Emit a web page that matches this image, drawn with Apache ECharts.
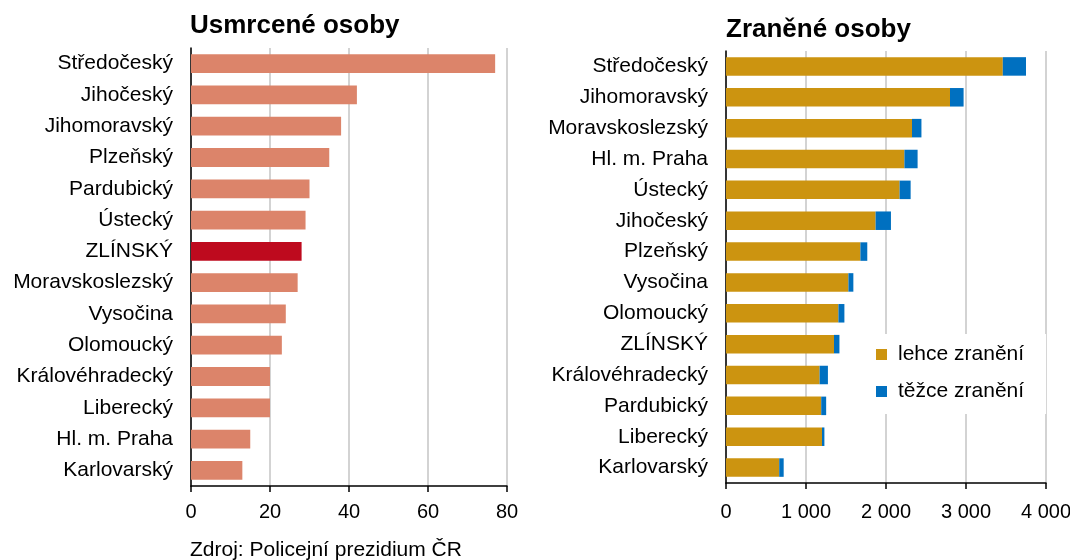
<!DOCTYPE html>
<html>
<head>
<meta charset="utf-8">
<script src="https://cdn.jsdelivr.net/npm/echarts@6/dist/echarts.min.js"></script>
<style>
  html, body { margin: 0; padding: 0; background: #fff; }
  #main { width: 1070px; height: 560px; }
</style>
</head>
<body>
<div id="main"></div>
<script>
// usmrcené osoby
var killedRegions = ["Středočeský", "Jihočeský", "Jihomoravský", "Plzeňský", "Pardubický", "Ústecký", "ZLÍNSKÝ",
  "Moravskoslezský", "Vysočina", "Olomoucký", "Královéhradecký", "Liberecký", "Hl. m. Praha", "Karlovarský"]
var killedValues = [77, 42, 38, 35, 30, 29, 28, 27, 24, 23, 20, 20, 15, 13]
var killedTicks = [0, 20, 40, 60, 80]

// zraněné osoby
var injuredRegions = ["Středočeský", "Jihomoravský", "Moravskoslezský", "Hl. m. Praha", "Ústecký", "Jihočeský", "Plzeňský",
  "Vysočina", "Olomoucký", "ZLÍNSKÝ", "Královéhradecký", "Pardubický", "Liberecký", "Karlovarský"]
var lightlyInjured = [3460, 2800, 2325, 2230, 2170, 1870, 1680, 1530, 1405, 1350, 1170, 1190, 1200, 665]
var seriouslyInjured = [290, 170, 118, 165, 138, 192, 86, 62, 75, 68, 104, 62, 30, 56]
var injuredTicks = [0, 1000, 2000, 3000, 4000]

var highlight = "ZLÍNSKÝ"
var font = "Liberation Sans, Arial, sans-serif"

var chartDom = document.getElementById("main")
var myChart = echarts.init(chartDom)

var catAxis = function (gridIndex, data) {
  return {
    type: "category",
    gridIndex: gridIndex,
    data: data,
    inverse: true,
    axisLine: { lineStyle: { color: "#000", width: 1.5 } },
    axisTick: { show: false },
    axisLabel: { color: "#000", fontSize: 21, fontFamily: font, margin: 18 }
  }
}

var valAxis = function (gridIndex, ticks, margin, fmt) {
  return {
    type: "value",
    gridIndex: gridIndex,
    min: ticks[0],
    max: ticks[ticks.length - 1],
    interval: ticks[1] - ticks[0],
    axisLine: { show: true, lineStyle: { color: "#000", width: 1.5 } },
    axisTick: { show: true, length: 6, lineStyle: { color: "#000", width: 1.5 } },
    axisLabel: { color: "#000", fontSize: 20, fontFamily: font, margin: margin, formatter: fmt },
    splitLine: { lineStyle: { color: "#c4c4c4", width: 1.5 } }
  }
}

var option = {
  animation: false,
  backgroundColor: "#fff",
  textStyle: { fontFamily: font },
  title: [
    { text: "Usmrcené osoby", left: 190, top: 13, padding: 0, textStyle: { fontSize: 26, fontWeight: "bold", color: "#000", fontFamily: font } },
    { text: "Zraněné osoby", left: 726, top: 17, padding: 0, textStyle: { fontSize: 26, fontWeight: "bold", color: "#000", fontFamily: font } },
    { text: "Zdroj: Policejní prezidium ČR", left: 190, top: 540, padding: 0, textStyle: { fontSize: 21, fontWeight: "normal", color: "#000", fontFamily: font } }
  ],
  grid: [
    { left: 191, width: 316, top: 48, height: 438, outerBoundsMode: "none" },
    { left: 726, width: 320, top: 51, height: 432, outerBoundsMode: "none" }
  ],
  legend: {
    orient: "vertical",
    left: 872,
    top: 334,
    padding: [10, 22, 12, 4],
    backgroundColor: "#fff",
    itemWidth: 11,
    itemHeight: 11,
    itemGap: 16,
    icon: "rect",
    textStyle: { fontSize: 21, color: "#000", fontFamily: font, padding: [0, 0, 0, 6] },
    data: ["lehce zranění", "těžce zranění"]
  },
  xAxis: [
    valAxis(0, killedTicks, 16, function (v) { return v }),
    valAxis(1, injuredTicks, 19, function (v) { return v === 0 ? "0" : (v / 1000) + " 000" })
  ],
  yAxis: [catAxis(0, killedRegions), catAxis(1, injuredRegions)],
  series: [
    {
      name: "Usmrcené osoby",
      type: "bar",
      xAxisIndex: 0,
      yAxisIndex: 0,
      barWidth: "60%",
      data: killedValues.map(function (v, i) {
        return {
          value: v,
          itemStyle: { color: killedRegions[i] === highlight ? "#BE0A1E" : "#DC846A" }
        }
      })
    },
    {
      name: "lehce zranění",
      type: "bar",
      stack: "zraneni",
      xAxisIndex: 1,
      yAxisIndex: 1,
      barWidth: "60%",
      itemStyle: { color: "#CC9410" },
      data: lightlyInjured
    },
    {
      name: "těžce zranění",
      type: "bar",
      stack: "zraneni",
      xAxisIndex: 1,
      yAxisIndex: 1,
      barWidth: "60%",
      itemStyle: { color: "#0070C0" },
      data: seriouslyInjured
    }
  ]
}

option && myChart.setOption(option)
</script>
</body>
</html>
